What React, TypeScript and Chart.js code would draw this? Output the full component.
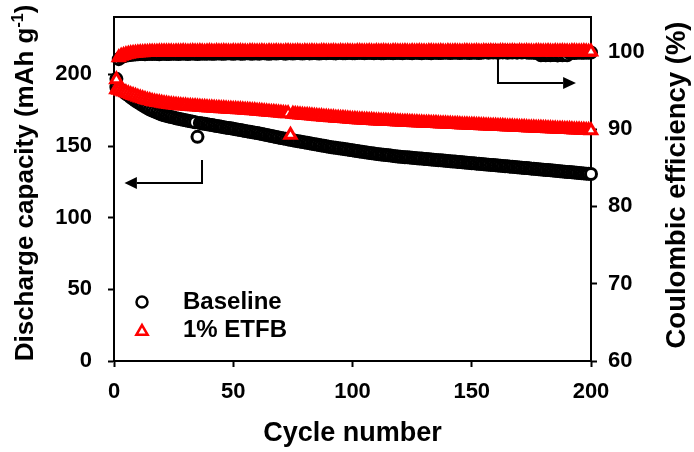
import React, { useEffect, useRef } from "react";
import { Chart, registerables } from "chart.js";

Chart.register(...registerables);

const FONT = '"Liberation Sans", Arial, Helvetica, sans-serif';

const legendLabels = ["Baseline", "1% ETFB"];
const xTitle = "Cycle number";
const leftTitleMain = "Discharge capacity (mAh g";
const leftTitleSup = "-1";
const leftTitleEnd = ")";
const rightTitle = "Coulombic efficiency (%)";

// Discharge capacity (mAh g-1), cycles 1..200
const baselineCapacity = [
  191.0, 190.2, 189.1, 187.9, 186.5, 185.3, 184.0, 182.8, 181.6, 180.5,
  179.4, 178.4, 177.4, 176.4, 175.5, 174.7, 174.0, 173.3, 172.6, 172.0,
  171.5, 171.0, 170.6, 170.2, 169.8, 169.4, 169.0, 168.7, 168.3, 168.0,
  167.6, 167.3, 167.0, 166.6, 156.4, 166.0, 165.7, 165.5, 165.2, 164.9,
  164.6, 164.3, 164.0, 163.7, 163.4, 163.1, 162.8, 162.6, 162.3, 162.0,
  161.7, 161.4, 161.1, 160.8, 160.5, 160.2, 159.9, 159.6, 159.3, 159.0,
  158.7, 158.3, 158.0, 157.6, 157.3, 157.0, 156.6, 156.3, 155.9, 155.6,
  155.3, 155.0, 154.6, 154.3, 154.0, 153.7, 153.4, 153.1, 152.8, 152.5,
  152.2, 151.9, 151.6, 151.3, 151.0, 150.7, 150.4, 150.1, 149.8, 149.5,
  149.2, 149.0, 148.7, 148.5, 148.2, 148.0, 147.7, 147.5, 147.2, 147.0,
  146.7, 146.5, 146.2, 146.0, 145.7, 145.5, 145.2, 145.0, 144.7, 144.5,
  144.3, 144.1, 143.9, 143.7, 143.5, 143.3, 143.1, 142.9, 142.7, 142.5,
  142.4, 142.2, 142.1, 141.9, 141.8, 141.6, 141.5, 141.3, 141.2, 141.0,
  140.9, 140.7, 140.6, 140.4, 140.3, 140.1, 140.0, 139.8, 139.7, 139.5,
  139.4, 139.2, 139.1, 138.9, 138.8, 138.6, 138.5, 138.3, 138.2, 138.0,
  137.9, 137.7, 137.6, 137.4, 137.3, 137.1, 137.0, 136.8, 136.7, 136.5,
  136.4, 136.2, 136.1, 135.9, 135.8, 135.6, 135.5, 135.3, 135.2, 135.0,
  134.9, 134.7, 134.6, 134.4, 134.2, 134.1, 133.9, 133.8, 133.6, 133.5,
  133.3, 133.2, 133.0, 132.9, 132.7, 132.5, 132.4, 132.2, 132.1, 131.9,
  131.8, 131.6, 131.5, 131.3, 131.2, 131.0, 130.9, 130.7, 130.6, 130.5,
];

const etfbCapacity = [
  189.5, 189.0, 188.4, 187.9, 187.3, 186.7, 186.0, 185.4, 184.8, 184.2,
  183.6, 183.1, 182.6, 182.1, 181.7, 181.3, 180.9, 180.6, 180.3, 180.0,
  179.7, 179.5, 179.2, 179.0, 178.8, 178.6, 178.4, 178.3, 178.1, 178.0,
  177.8, 177.7, 177.6, 177.5, 177.3, 177.2, 177.1, 177.0, 176.8, 176.7,
  176.6, 176.5, 176.4, 176.3, 176.2, 176.1, 176.0, 175.9, 175.8, 175.7,
  175.6, 175.5, 175.4, 175.3, 175.2, 175.1, 175.0, 174.8, 174.7, 174.5,
  174.4, 174.2, 174.1, 173.9, 173.8, 173.6, 173.5, 173.3, 173.2, 173.0,
  172.9, 172.7, 172.6, 157.7, 172.3, 172.1, 172.0, 171.8, 171.7, 171.5,
  171.4, 171.2, 171.1, 170.9, 170.8, 170.6, 170.5, 170.3, 170.2, 170.0,
  169.9, 169.8, 169.6, 169.5, 169.4, 169.3, 169.1, 169.0, 168.9, 168.7,
  168.6, 168.5, 168.4, 168.3, 168.2, 168.1, 168.0, 167.9, 167.8, 167.7,
  167.6, 167.5, 167.5, 167.4, 167.3, 167.2, 167.2, 167.1, 167.0, 166.9,
  166.8, 166.8, 166.7, 166.6, 166.5, 166.4, 166.4, 166.3, 166.2, 166.1,
  166.1, 166.0, 165.9, 165.8, 165.8, 165.7, 165.6, 165.5, 165.5, 165.4,
  165.3, 165.2, 165.2, 165.1, 165.0, 164.9, 164.9, 164.8, 164.7, 164.6,
  164.6, 164.5, 164.4, 164.3, 164.3, 164.2, 164.1, 164.0, 164.0, 163.9,
  163.8, 163.7, 163.7, 163.6, 163.5, 163.4, 163.4, 163.3, 163.2, 163.1,
  163.1, 163.0, 162.9, 162.8, 162.8, 162.7, 162.6, 162.5, 162.5, 162.4,
  162.3, 162.2, 162.2, 162.1, 162.0, 161.9, 161.9, 161.8, 161.7, 161.6,
  161.6, 161.5, 161.4, 161.3, 161.3, 161.2, 161.1, 161.0, 161.0, 160.9,
];

// Coulombic efficiency (%), cycles 1..200
const baselineCE = [
  96.5, 99.05, 99.3, 99.42, 99.5, 99.55, 99.6, 99.63, 99.66, 99.68,
  99.7, 99.72, 99.68, 99.71, 99.73, 99.7, 99.74, 99.72, 99.69, 99.73,
  99.75, 99.72, 99.7, 99.74, 99.76, 99.73, 99.71, 99.75, 99.77, 99.74,
  99.72, 99.76, 99.78, 99.74, 99.7, 99.75, 99.77, 99.73, 99.76, 99.78,
  99.75, 99.73, 99.77, 99.79, 99.76, 99.74, 99.78, 99.8, 99.77, 99.75,
  99.78, 99.8, 99.76, 99.74, 99.79, 99.81, 99.77, 99.75, 99.8, 99.78,
  99.76, 99.8, 99.82, 99.78, 99.75, 99.79, 99.81, 99.77, 99.8, 99.83,
  99.79, 99.76, 99.8, 99.82, 99.78, 99.81, 99.84, 99.8, 99.77, 99.81,
  99.83, 99.79, 99.82, 99.85, 99.81, 99.78, 99.82, 99.84, 99.8, 99.83,
  99.85, 99.81, 99.79, 99.83, 99.86, 99.82, 99.8, 99.84, 99.86, 99.82,
  99.8, 99.84, 99.87, 99.83, 99.81, 99.85, 99.87, 99.83, 99.8, 99.84,
  99.86, 99.82, 99.8, 99.85, 99.88, 99.84, 99.81, 99.85, 99.87, 99.83,
  99.81, 99.86, 99.88, 99.84, 99.82, 99.86, 99.89, 99.85, 99.82, 99.86,
  99.88, 99.84, 99.82, 99.87, 99.89, 99.85, 99.83, 99.87, 99.9, 99.86,
  99.83, 99.87, 99.9, 99.86, 99.84, 99.88, 99.91, 99.87, 99.84, 99.88,
  99.9, 99.86, 99.84, 99.89, 99.92, 100.12, 99.88, 100.1, 99.9, 100.14,
  99.87, 100.11, 99.92, 100.13, 99.88, 100.1, 99.91, 100.12, 99.89, 100.11,
  99.9, 100.1, 99.92, 99.88, 99.9, 99.86, 99.84, 99.88, 99.56, 99.6,
  99.55, 99.58, 99.54, 99.6, 99.57, 99.53, 99.59, 99.56, 99.61, 99.55,
  99.85, 99.88, 99.84, 99.87, 99.9, 99.86, 99.88, 99.91, 99.87, 99.9,
];

const etfbCE = [
  96.4, 99.25, 99.45, 99.55, 99.65, 99.72, 99.78, 99.82, 99.85, 99.88,
  99.9, 99.92, 99.93, 99.95, 99.96, 99.97, 99.98, 99.98, 99.99, 100.0,
  100.01, 99.99, 100.02, 100.0, 99.98, 100.02, 100.01, 99.99, 100.03, 100.0,
  99.98, 100.02, 100.04, 100.0, 99.99, 100.03, 100.01, 99.98, 100.02, 100.04,
  100.0, 99.98, 100.03, 100.01, 99.99, 100.04, 100.02, 100.0, 99.98, 100.03,
  100.01, 99.99, 100.04, 100.02, 100.0, 99.98, 100.03, 100.05, 100.01, 99.99,
  100.02, 100.04, 100.0, 99.98, 100.03, 100.01, 99.99, 100.04, 100.02, 100.0,
  99.98, 100.03, 100.05, 100.01, 99.99, 100.02, 100.04, 100.0, 99.98, 100.03,
  100.01, 99.99, 100.04, 100.02, 100.0, 99.98, 100.03, 100.05, 100.01, 99.99,
  100.02, 100.04, 100.0, 99.98, 100.03, 100.01, 99.99, 100.04, 100.02, 100.0,
  99.98, 100.03, 100.05, 100.01, 99.99, 100.02, 100.04, 100.0, 99.98, 100.03,
  100.01, 99.99, 100.04, 100.02, 100.0, 99.98, 100.03, 100.05, 100.01, 99.99,
  100.02, 100.04, 100.0, 99.98, 100.03, 100.01, 99.99, 100.04, 100.02, 100.0,
  99.98, 100.03, 100.05, 100.01, 99.99, 100.02, 100.04, 100.0, 99.98, 100.03,
  100.01, 99.99, 100.04, 100.02, 100.0, 99.98, 100.03, 100.05, 100.01, 99.99,
  100.02, 100.04, 100.0, 99.98, 100.03, 100.01, 99.99, 100.04, 100.02, 100.0,
  99.98, 100.03, 100.05, 100.01, 99.99, 100.02, 100.04, 100.0, 99.98, 100.03,
  100.01, 99.99, 100.04, 100.02, 100.0, 99.98, 100.03, 100.05, 100.01, 99.99,
  100.02, 100.04, 100.0, 99.98, 100.03, 100.01, 99.99, 100.04, 100.02, 100.0,
  99.98, 100.03, 100.05, 100.01, 99.99, 100.02, 100.04, 100.0, 99.98, 100.01,
];

const cycles = baselineCapacity.map((_, i) => i + 1);

const BLACK = "#000000";
const RED = "#ff0000";
const CIRCLE_R = 5.5;
const TRI_R = 6.5;
const MARK_W = 3;

function pts(values: number[]) {
  return values.map((v, i) => ({ x: cycles[i], y: v }));
}

function drawTriangle(ctx: CanvasRenderingContext2D, x: number, y: number, r: number) {
  const a = (2 * Math.PI) / 3;
  ctx.beginPath();
  ctx.moveTo(x, y - r);
  ctx.lineTo(x + Math.sin(a) * r, y - Math.cos(a) * r);
  ctx.lineTo(x + Math.sin(2 * a) * r, y - Math.cos(2 * a) * r);
  ctx.closePath();
}

function arrow(
  ctx: CanvasRenderingContext2D,
  path: [number, number][],
  tipX: number
) {
  ctx.beginPath();
  ctx.moveTo(path[0][0], path[0][1]);
  for (let i = 1; i < path.length; i++) ctx.lineTo(path[i][0], path[i][1]);
  ctx.stroke();
  const [bx, by] = path[path.length - 1];
  ctx.beginPath();
  ctx.moveTo(bx, by - 6);
  ctx.lineTo(tipX, by);
  ctx.lineTo(bx, by + 6);
  ctx.closePath();
  ctx.fill();
}

const overlay = {
  id: "overlay",
  afterDraw(chart: any) {
    const { ctx, chartArea: a, scales } = chart;
    const xs = scales.x;
    const ys = scales.y;
    const y1 = scales.y1;
    ctx.save();
    ctx.strokeStyle = BLACK;
    ctx.fillStyle = BLACK;
    ctx.lineWidth = 2;
    // top frame line
    ctx.beginPath();
    ctx.moveTo(a.left - 1, a.top);
    ctx.lineTo(a.right + 1, a.top);
    ctx.stroke();

    // arrows (annotation positions in data coordinates)
    arrow(
      ctx,
      [
        [xs.getPixelForValue(36.9), ys.getPixelForValue(140.2)],
        [xs.getPixelForValue(36.9), ys.getPixelForValue(124.2)],
        [xs.getPixelForValue(9.6), ys.getPixelForValue(124.2)],
      ],
      xs.getPixelForValue(4.4)
    );
    arrow(
      ctx,
      [
        [xs.getPixelForValue(161), y1.getPixelForValue(99.2)],
        [xs.getPixelForValue(161), y1.getPixelForValue(95.96)],
        [xs.getPixelForValue(188.3), y1.getPixelForValue(95.96)],
      ],
      xs.getPixelForValue(193.7)
    );

    // legend
    const lx = a.left + 28;
    const tx = a.left + 69;
    const ly1 = a.bottom - 59;
    const ly2 = a.bottom - 31;
    ctx.lineWidth = 2.5;
    ctx.fillStyle = "#ffffff";
    ctx.strokeStyle = BLACK;
    ctx.beginPath();
    ctx.arc(lx, ly1, CIRCLE_R, 0, Math.PI * 2);
    ctx.fill();
    ctx.stroke();
    ctx.strokeStyle = RED;
    drawTriangle(ctx, lx, ly2 + 1.5, TRI_R);
    ctx.fill();
    ctx.stroke();
    ctx.fillStyle = BLACK;
    ctx.font = `bold 24px ${FONT}`;
    ctx.textAlign = "left";
    ctx.textBaseline = "middle";
    ctx.fillText(legendLabels[0], tx, ly1);
    ctx.fillText(legendLabels[1], tx, ly2);

    // left axis title (rotated, with superscript)
    const big = `bold 26px ${FONT}`;
    const small = `bold 16px ${FONT}`;
    ctx.textBaseline = "alphabetic";
    ctx.font = big;
    const w1 = ctx.measureText(leftTitleMain).width;
    const w3 = ctx.measureText(leftTitleEnd).width;
    ctx.font = small;
    const w2 = ctx.measureText(leftTitleSup).width;
    const total = w1 + w2 + w3;
    ctx.save();
    ctx.translate(33, (a.top + a.bottom) / 2 - 6);
    ctx.rotate(-Math.PI / 2);
    ctx.font = big;
    ctx.fillText(leftTitleMain, -total / 2, 0);
    ctx.font = small;
    ctx.fillText(leftTitleSup, -total / 2 + w1, -10);
    ctx.font = big;
    ctx.fillText(leftTitleEnd, -total / 2 + w1 + w2, 0);
    ctx.restore();

    // right axis title (reads bottom to top)
    ctx.save();
    ctx.translate(685, (a.top + a.bottom) / 2 - 4);
    ctx.rotate(-Math.PI / 2);
    ctx.font = `bold 27.5px ${FONT}`;
    ctx.textAlign = "center";
    ctx.fillText(rightTitle, 0, 0);
    ctx.restore();

    ctx.restore();
  },
};

export default function App() {
  const ref = useRef<HTMLCanvasElement>(null);
  useEffect(() => {
    document.body.style.margin = "0";
    const tickFont = { family: FONT, size: 22, weight: "bold" as const };
    const gridCommon = {
      drawOnChartArea: false,
      drawTicks: true,
      tickLength: 6,
      tickWidth: 2,
      tickColor: BLACK,
    };
    const border = { display: true, color: BLACK, width: 2 };
    const circleDs = (label: string, values: number[], axis: string) => ({
      label,
      data: pts(values),
      yAxisID: axis,
      showLine: false,
      pointStyle: "circle",
      pointRadius: CIRCLE_R,
      pointBorderWidth: MARK_W,
      pointBorderColor: BLACK,
      pointBackgroundColor: "#ffffff",
      borderColor: BLACK,
      backgroundColor: "#ffffff",
      clip: false as const,
    });
    const triDs = (label: string, values: number[], axis: string) => ({
      label,
      data: pts(values),
      yAxisID: axis,
      showLine: false,
      pointStyle: "triangle",
      pointRadius: TRI_R,
      pointBorderWidth: MARK_W,
      pointBorderColor: RED,
      pointBackgroundColor: "#ffffff",
      borderColor: RED,
      backgroundColor: "#ffffff",
      clip: false as const,
    });
    const fixV = (w: number) => (s: any) => {
      s.width = w;
      s.paddingTop = 0;
      s.paddingBottom = 0;
    };
    const chart = new Chart(ref.current as HTMLCanvasElement, {
      type: "scatter",
      data: {
        datasets: [
          triDs(legendLabels[1] + " CE", etfbCE, "y1"),
          triDs(legendLabels[1], etfbCapacity, "y"),
          circleDs(legendLabels[0] + " CE", baselineCE, "y1"),
          circleDs(legendLabels[0], baselineCapacity, "y"),
        ],
      },
      options: {
        responsive: false,
        animation: false,
        devicePixelRatio: 1,
        layout: { padding: { top: 17, left: 0, right: 0, bottom: 0 } },
        plugins: {
          legend: { display: false },
          tooltip: { enabled: false },
        },
        events: [],
        scales: {
          x: {
            type: "linear",
            min: 0,
            max: 200,
            afterFit: (s: any) => {
              s.height = 91;
              s.paddingLeft = 0;
              s.paddingRight = 0;
            },
            ticks: {
              stepSize: 50,
              font: tickFont,
              color: BLACK,
              padding: 12,
              maxRotation: 0,
            },
            grid: gridCommon,
            border,
            title: {
              display: true,
              text: xTitle,
              color: BLACK,
              font: { family: FONT, size: 27, weight: "bold" },
              padding: { top: 0, bottom: 2 },
            },
          },
          y: {
            type: "linear",
            position: "left",
            min: 0,
            max: 240,
            afterFit: fixV(114),
            ticks: {
              stepSize: 50,
              includeBounds: false,
              font: tickFont,
              color: BLACK,
              padding: 16,
            },
            grid: gridCommon,
            border,
          },
          y1: {
            type: "linear",
            position: "right",
            min: 60,
            max: 104.5,
            afterFit: fixV(103),
            ticks: {
              stepSize: 10,
              includeBounds: false,
              font: tickFont,
              color: BLACK,
              padding: 11,
            },
            grid: gridCommon,
            border,
          },
        },
      } as any,
      plugins: [overlay],
    });
    return () => chart.destroy();
  }, []);
  return (
    <div style={{ width: 694, height: 452 }}>
      <canvas ref={ref} width={694} height={452} style={{ display: "block" }} />
    </div>
  );
}
